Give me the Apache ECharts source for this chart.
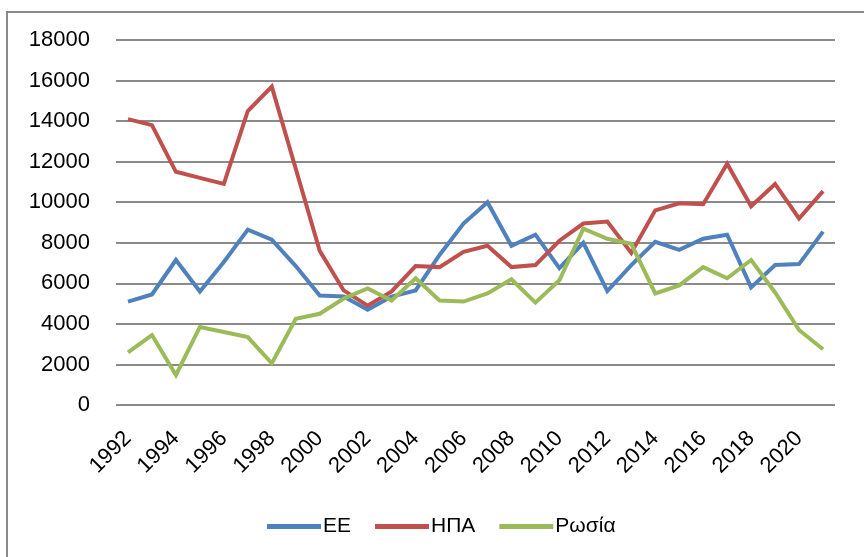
<!DOCTYPE html>
<html>
<head>
<meta charset="utf-8">
<script src="https://cdn.jsdelivr.net/npm/echarts@6/dist/echarts.min.js"></script>
<style>
  html, body { margin: 0; padding: 0; background: #fff; overflow: hidden; }
  #chart { width: 864px; height: 557px; position: relative; }
  .frame { position: absolute; left: 6px; top: 11px; width: 900px; height: 600px; border: 2px solid #8a8a8a; box-sizing: border-box; pointer-events: none; }
</style>
</head>
<body>
<div id="chart"></div>
<div class="frame"></div>
<script>
const years = ['1992','1993','1994','1995','1996','1997','1998','1999','2000','2001',
  '2002','2003','2004','2005','2006','2007','2008','2009','2010','2011',
  '2012','2013','2014','2015','2016','2017','2018','2019','2020','2021']

const ee = [5100, 5450, 7150, 5600, 7050, 8650, 8150, 6850, 5400, 5350,
  4700, 5350, 5650, 7400, 8950, 10000, 7850, 8400, 6750, 8000,
  5620, 6900, 8050, 7650, 8200, 8400, 5800, 6900, 6950, 8550]

const usa = [14100, 13800, 11500, 11200, 10900, 14500, 15700, 11650, 7600, 5650,
  4900, 5600, 6850, 6800, 7550, 7850, 6800, 6900, 8100, 8950,
  9050, 7500, 9600, 9950, 9900, 11900, 9800, 10900, 9200, 10550]

const russia = [2600, 3450, 1480, 3850, 3600, 3350, 2050, 4250, 4500, 5250,
  5750, 5150, 6250, 5150, 5100, 5500, 6200, 5050, 6150, 8700,
  8200, 7950, 5500, 5900, 6800, 6250, 7150, 5550, 3700, 2750]

const FONT = 'Liberation Sans'

const chart = echarts.init(document.getElementById('chart'), null, { renderer: 'canvas' })

const line = (name, data, color) => ({
  name,
  type: 'line',
  data,
  symbol: 'none',
  smooth: false,
  lineStyle: { color, width: 4, join: 'miter' },
  itemStyle: { color },
})

chart.setOption({
  animation: false,
  backgroundColor: '#fff',
  textStyle: { fontFamily: FONT, color: '#000' },
  grid: { left: 116, right: 29, top: 40, bottom: 152, containLabel: false },
  legend: {
    left: 262,
    top: 511,
    icon: 'rect',
    itemWidth: 54,
    itemHeight: 5,
    itemGap: 24,
    textStyle: { fontFamily: FONT, fontSize: 21, color: '#000', padding: [0, 0, 0, -3] },
    data: ['ΕΕ', 'ΗΠΑ', 'Ρωσία'],
  },
  xAxis: {
    type: 'category',
    data: years,
    boundaryGap: true,
    axisLine: { show: false },
    axisTick: { show: false },
    axisLabel: {
      interval: 1,
      rotate: 45,
      margin: 30,
      fontFamily: FONT,
      fontSize: 22,
      color: '#000',
    },
  },
  yAxis: {
    type: 'value',
    min: 0,
    max: 18000,
    interval: 2000,
    axisLine: { show: false },
    axisTick: { show: false },
    axisLabel: { margin: 26, fontFamily: FONT, fontSize: 22, color: '#000', formatter: (v) => String(v) },
    splitLine: { lineStyle: { color: '#8a8a8a', width: 2 } },
  },
  series: [
    line('ΕΕ', ee, '#4F81BD'),
    line('ΗΠΑ', usa, '#C0504D'),
    line('Ρωσία', russia, '#9BBB59'),
  ],
})
</script>
</body>
</html>
